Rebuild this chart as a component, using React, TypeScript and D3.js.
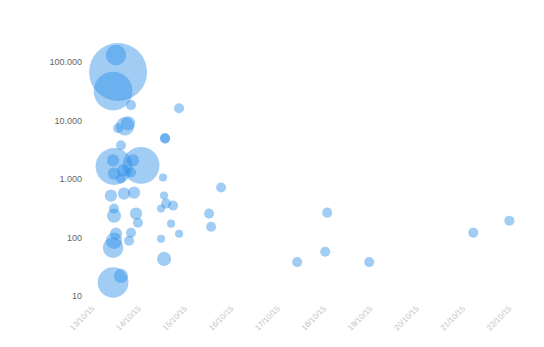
import React from "react";
import * as d3 from "d3";

// Data
const times: string[] = [
  "2015-10-13T10:24", "2015-10-13T07:48", "2015-10-13T09:20", "2015-10-13T17:06",
  "2015-10-13T15:36", "2015-10-13T14:00", "2015-10-13T10:24", "2015-10-13T11:54",
  "2015-10-13T08:18", "2015-10-13T22:18",
  "2015-10-13T07:48", "2015-10-13T13:00", "2015-10-13T18:06", "2015-10-13T08:18",
  "2015-10-13T17:06", "2015-10-13T11:54",
  "2015-10-13T06:42", "2015-10-13T13:30", "2015-10-13T18:42",
  "2015-10-13T08:18", "2015-10-13T08:18", "2015-10-13T19:42", "2015-10-13T20:42",
  "2015-10-13T09:20", "2015-10-13T08:18", "2015-10-13T17:06", "2015-10-13T16:06",
  "2015-10-13T07:48", "2015-10-13T11:54", "2015-10-13T07:48",
  "2015-10-14T10:44", "2015-10-14T10:44", "2015-10-14T18:00", "2015-10-14T09:40",
  "2015-10-14T10:13", "2015-10-14T11:15", "2015-10-14T14:53", "2015-10-14T08:40",
  "2015-10-14T13:50", "2015-10-14T18:00", "2015-10-14T08:40", "2015-10-14T10:13",
  "2015-10-15T15:46", "2015-10-15T09:32", "2015-10-15T10:35",
  "2015-10-17T07:10", "2015-10-17T21:41", "2015-10-17T22:43", "2015-10-18T20:29",
  "2015-10-21T02:24", "2015-10-21T21:04",
];

const values: number[] = [
  67300, 31800, 132000, 18300,
  8980, 7970, 7360, 3760,
  1640, 1710,
  2080, 1400, 2080, 1240,
  1290, 1020,
  521, 564, 587,
  236, 312, 256, 179,
  116, 88, 121, 88,
  67, 22, 17,
  4950, 4950, 16200, 1060,
  521, 380, 351, 312,
  172, 116, 95, 43,
  714, 256, 153,
  38, 57, 266, 38,
  121, 194,
];

const sizes: number[] = [
  200, 90, 25, 6,
  12, 20, 6, 6,
  81, 81,
  9, 9, 9, 9,
  6, 6,
  9, 9, 9,
  12, 6, 9, 6,
  9, 16, 6, 6,
  25, 12, 56,
  6, 6, 6, 4,
  4, 6, 6, 4,
  4, 4, 4, 12,
  6, 6, 6,
  6, 6, 6, 6,
  6, 6,
];

const yTickValues: number[] = [10, 100, 1000, 10000, 100000];
const yTickLabels: string[] = ["10", "100", "1.000", "10.000", "100.000"];
const xTickDates: string[] = [
  "2015-10-13", "2015-10-14", "2015-10-15", "2015-10-16", "2015-10-17",
  "2015-10-18", "2015-10-19", "2015-10-20", "2015-10-21", "2015-10-22",
];
const xTickLabels: string[] = [
  "13/10/15", "14/10/15", "15/10/15", "16/10/15", "17/10/15",
  "18/10/15", "19/10/15", "20/10/15", "21/10/15", "22/10/15",
];

const W = 544;
const H = 347;

export default function App() {
  const parseT = d3.timeParse("%Y-%m-%dT%H:%M");
  const parseD = d3.timeParse("%Y-%m-%d");
  const x = d3
    .scaleTime()
    .domain([parseD(xTickDates[0]) as Date, parseD(xTickDates[xTickDates.length - 1]) as Date])
    .range([98, 515]);
  const y = d3.scaleLog().domain([10, 100000]).range([296, 62]);
  const r = d3.scaleSqrt().domain([0, 200]).range([0, 29]);

  const pts = times.map((t, i) => ({ t: parseT(t) as Date, v: values[i], s: sizes[i] }));

  return (
    <svg
      width={W}
      height={H}
      style={{ position: "absolute", left: 0, top: 0, background: "#fff" }}
      fontFamily="Liberation Sans, Arial, sans-serif"
    >
      <g>
        {yTickValues.map((v, i) => (
          <text
            key={v}
            x={82}
            y={y(v)}
            dy="0.35em"
            textAnchor="end"
            fontSize={9}
            fill="#666"
          >
            {yTickLabels[i]}
          </text>
        ))}
      </g>
      <g>
        {xTickDates.map((d, i) => {
          const px = x(parseD(d) as Date);
          return (
            <text
              key={d}
              transform={`translate(${px - 3},${309}) rotate(-45)`}
              textAnchor="end"
              fontSize={8}
              fill="#c4c4c4"
            >
              {xTickLabels[i]}
            </text>
          );
        })}
      </g>
      <g>
        {pts.map((p, i) => (
          <circle
            key={i}
            cx={x(p.t)}
            cy={y(p.v)}
            r={r(p.s)}
            fill="#2a8de8"
            fillOpacity={0.44}
          />
        ))}
      </g>
    </svg>
  );
}
